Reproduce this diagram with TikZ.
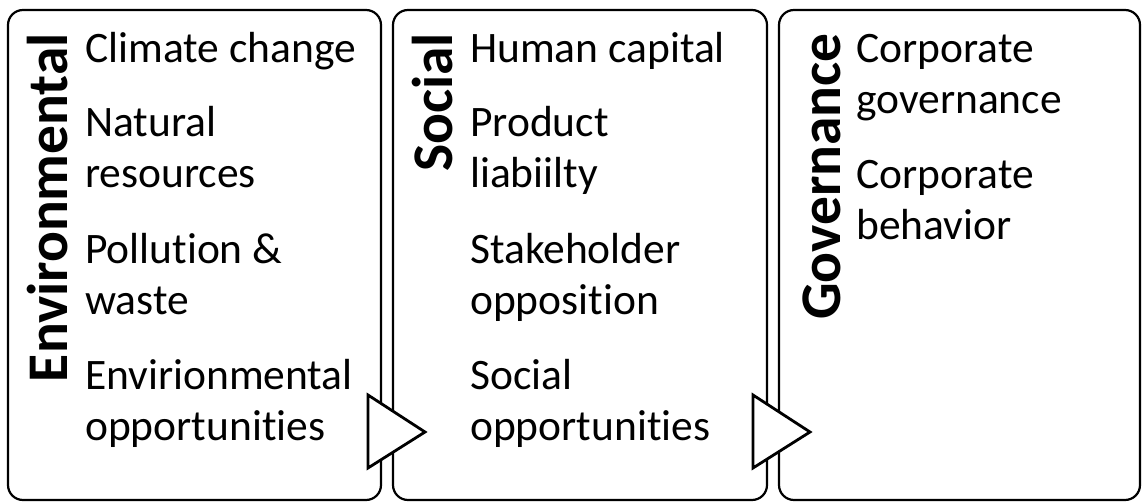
\documentclass[tikz,border=0pt]{standalone}
\usepackage{fontspec}
\setmainfont[Ligatures=NoCommon]{Carlito}
\begin{document}
\begin{tikzpicture}[x=1pt,y=-1pt,
  panel/.style={draw=black,line width=2.2pt,rounded corners=15pt},
  flowtip/.style={draw=black,fill=white,line width=2.8pt,line join=miter},
  catlabel/.style={rotate=90,anchor=base east,inner sep=0pt,
    font=\fontsize{57.5}{60}\selectfont\bfseries},
  % items are placed by the baseline of their last line
  item/.style={anchor=base west,inner sep=0pt,align=left,
    font=\fontsize{43.5}{51}\selectfont}]
\useasboundingbox (0,0) rectangle (1142,502);

% three category panels
\draw[panel] (8,10) rectangle (381,500);
\draw[panel] (393,10) rectangle (767,500);
\draw[panel] (779,10) rectangle (1140,500);

% arrowheads linking the panels
\draw[flowtip] (368,395) -- (425,432) -- (368,468) -- cycle;
\draw[flowtip] (753,395) -- (810,432) -- (753,468) -- cycle;

% vertical category titles
\node[catlabel] (envT) at (67,33) {Environmental};
\node[catlabel] (socT) at (452,33) {Social};
\node[catlabel] (govT) at (840,33) {Governance};

% Environmental items
\node[item] (e1) at (85,63) {Climate change};
\node[item] (e2) at (85,188) {Natural\\resources};
\node[item] (e3) at (85,314) {Pollution \&\\waste};
\node[item] (e4) at (85,440) {Envirionmental\\opportunities};

% Social items
\node[item] (s1) at (470,63) {Human capital};
\node[item] (s2) at (470,188) {Product\\liabiilty};
\node[item] (s3) at (470,314) {Stakeholder\\opposition};
\node[item] (s4) at (470,440) {Social\\opportunities};

% Governance items
\node[item] (g1) at (856,114) {Corporate\\governance};
\node[item] (g2) at (856,240) {Corporate\\behavior};
\end{tikzpicture}
\end{document}
